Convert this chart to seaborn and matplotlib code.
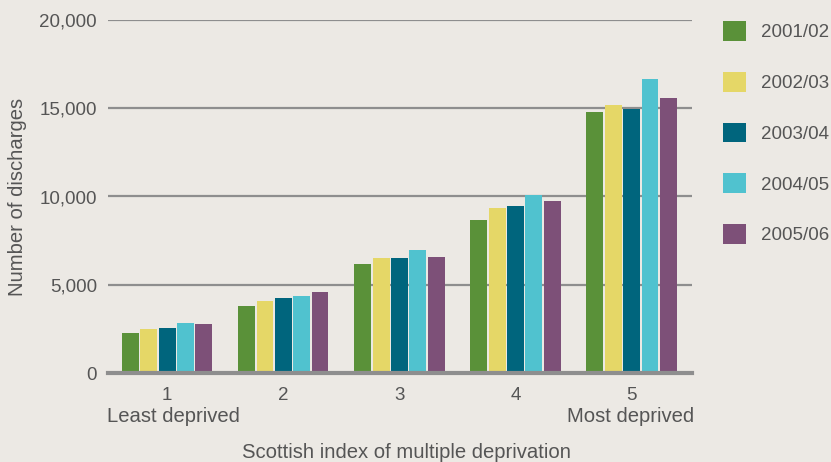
import matplotlib
matplotlib.use("Agg")
import matplotlib.pyplot as plt
import seaborn as sns
import pandas as pd
from matplotlib.ticker import FuncFormatter

# Hospital discharges by deprivation quintile, per financial year
quintiles = ["1", "2", "3", "4", "5"]
years = ["2001/02", "2002/03", "2003/04", "2004/05", "2005/06"]
d2001 = [2250, 3800, 6160, 8670, 14760]
d2002 = [2480, 4080, 6500, 9360, 15210]
d2003 = [2540, 4250, 6500, 9470, 14930]
d2004 = [2820, 4360, 6960, 10100, 16640]
d2005 = [2770, 4590, 6560, 9760, 15560]
series = [d2001, d2002, d2003, d2004, d2005]

colors = ["#5A9139", "#E5D767", "#00657D", "#50C2CF", "#7D5078"]
bg = "#ECE9E4"
text_c = "#555555"
grid_c = "#8E8E8E"
fs = 13.5      # numbers
fs_w = 14.6    # word labels

rows = []
for yr, vals in zip(years, series):
    for q, v in zip(quintiles, vals):
        rows.append({"quintile": q, "year": yr, "discharges": v})
df = pd.DataFrame(rows)

sns.set_theme(style="white")
plt.rcParams["font.family"] = ["Liberation Sans", "DejaVu Sans"]

fig = plt.figure(figsize=(8.31, 4.62), dpi=100, facecolor=bg)
ax = fig.add_axes([108 / 831, 89 / 462, 584 / 831, 353 / 462])
ax.set_facecolor(bg)

sns.barplot(data=df, x="quintile", y="discharges", hue="year",
            hue_order=years, order=quintiles, palette=colors,
            width=0.79, gap=0.08, saturation=1, ax=ax, legend=True,
            edgecolor="none", linewidth=0)

ax.set_ylim(0, 20000)
ax.set_xlim(-0.51, 4.52)
ax.set_yticks([0, 5000, 10000, 15000, 20000])
ax.yaxis.set_major_formatter(FuncFormatter(lambda v, p: f"{int(v):,}"))
ax.set_axisbelow(True)
ax.yaxis.grid(True, color=grid_c, linewidth=1.6)
for s in ["top", "right", "left"]:
    ax.spines[s].set_visible(False)
ax.spines["bottom"].set_color(grid_c)
ax.spines["bottom"].set_linewidth(3)
ax.spines["bottom"].set_zorder(5)
ax.tick_params(axis="y", length=0, pad=8, labelsize=fs, labelcolor=text_c)
ax.tick_params(axis="x", length=0, pad=10, labelsize=fs, labelcolor=text_c)

ax.set_xlabel("")
ax.set_ylabel("")
fig.text(18 / 831, 1 - 197 / 462, "Number of discharges", rotation=90,
         ha="center", va="center", fontsize=fs_w, color=text_c)

fig.text(107 / 831, 1 - 417 / 462, "Least deprived", ha="left", va="center",
         fontsize=fs_w, color=text_c)
fig.text(694 / 831, 1 - 417 / 462, "Most deprived", ha="right", va="center",
         fontsize=fs_w, color=text_c)
fig.text(406 / 831, 1 - 452 / 462, "Scottish index of multiple deprivation",
         ha="center", va="center", fontsize=fs_w, color=text_c)

handles, labels = ax.get_legend_handles_labels()
ax.get_legend().remove()
leg = fig.legend(handles, labels, loc="upper left",
                 bbox_to_anchor=(723 / 831, 1 - 21 / 462), frameon=False,
                 fontsize=fs, handlelength=1.25, handleheight=1.25,
                 labelspacing=1.63, handletextpad=0.75, borderaxespad=0,
                 borderpad=0)
for t in leg.get_texts():
    t.set_color(text_c)

fig.savefig("out.png", dpi=100, facecolor=bg)
